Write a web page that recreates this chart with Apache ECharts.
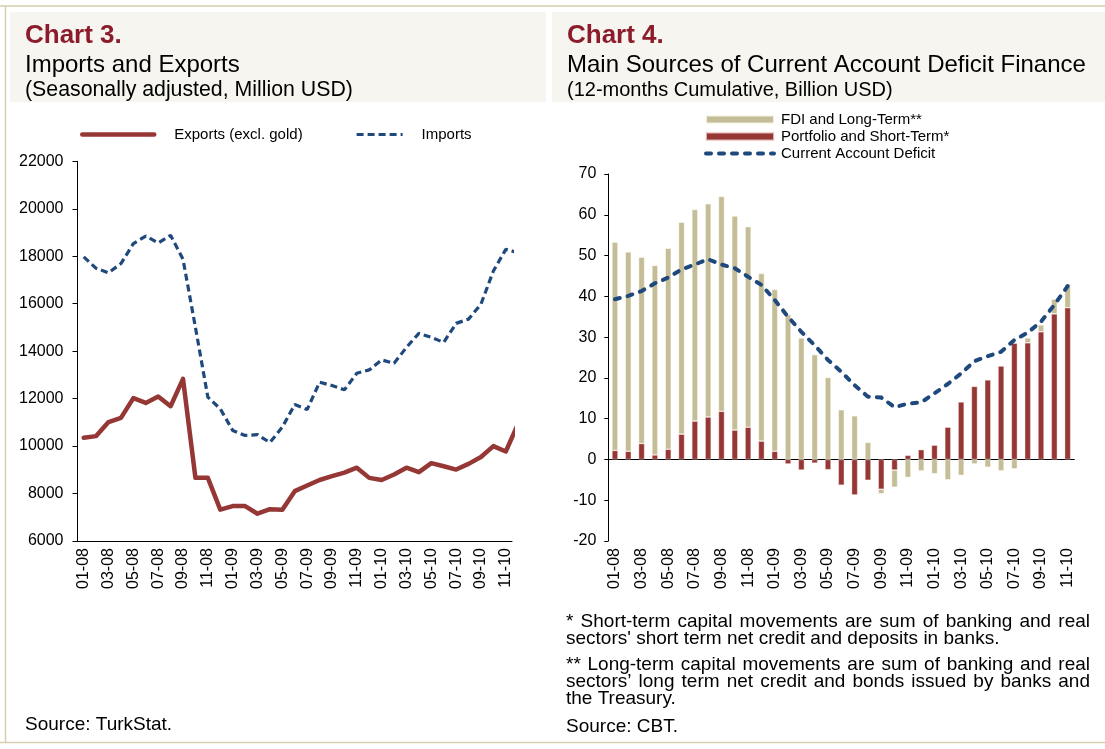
<!DOCTYPE html>
<html lang="en">
<head>
<meta charset="UTF-8">
<title>Chart 3 and Chart 4</title>
<script src="https://cdn.jsdelivr.net/npm/echarts@6.0.0/dist/echarts.min.js"></script>
<style>
  html, body { margin: 0; padding: 0; background: #fff; }
  #main { width: 1105px; height: 749px; }
</style>
</head>
<body>
<div id="main"></div>
<script type="text/javascript">
// ---- data ----
const monthsLeft = ['01-08','02-08','03-08','04-08','05-08','06-08','07-08','08-08','09-08','10-08','11-08','12-08',
  '01-09','02-09','03-09','04-09','05-09','06-09','07-09','08-09','09-09','10-09','11-09','12-09',
  '01-10','02-10','03-10','04-10','05-10','06-10','07-10','08-10','09-10','10-10','11-10','12-10'];
const exportsExGold = [10350, 10420, 11010, 11190, 12020, 11820, 12090, 11680, 12830, 8660, 8660, 7320,
  7470, 7470, 7150, 7340, 7320, 8100, 8340, 8570, 8730, 8880, 9090, 8660,
  8570, 8800, 9090, 8900, 9280, 9150, 9010, 9250, 9540, 10000, 9770, 10950];
const imports = [17970, 17490, 17300, 17690, 18530, 18850, 18560, 18880, 17870, 15000, 12060, 11570,
  10660, 10450, 10480, 10150, 10800, 11750, 11540, 12690, 12550, 12370, 13070, 13210,
  13630, 13490, 14160, 14750, 14580, 14370, 15170, 15350, 15980, 17380, 18290, 18150];

const monthsRight = ['01-08','02-08','03-08','04-08','05-08','06-08','07-08','08-08','09-08','10-08','11-08','12-08',
  '01-09','02-09','03-09','04-09','05-09','06-09','07-09','08-09','09-09','10-09','11-09','12-09',
  '01-10','02-10','03-10','04-10','05-10','06-10','07-10','08-10','09-10','10-10','11-10'];
const portfolioShort = [2.2, 2.0, 3.9, 1.1, 2.5, 6.2, 9.4, 10.4, 11.8, 7.2, 7.9, 4.5,
  2.0, -1.1, -2.6, -0.9, -2.5, -6.3, -8.7, -5.1, -7.3, -2.6, 1.0, 2.4,
  3.5, 7.9, 14.1, 17.9, 19.5, 22.9, 28.5, 28.6, 31.3, 35.7, 37.2];
const fdiLong = [51.1, 48.9, 45.7, 46.5, 49.3, 52.0, 51.9, 52.3, 52.7, 52.5, 49.2, 41.1,
  39.7, 35.5, 29.8, 25.7, 20.1, 12.2, 10.7, 4.2, -1.1, -4.2, -4.4, -2.8,
  -3.5, -5.0, -3.9, -1.1, -1.9, -2.8, -2.3, 1.2, 1.7, 3.6, 5.8];
const currentAccountDeficit = [39.3, 40.1, 41.3, 43.2, 44.6, 46.6, 47.8, 49.1, 47.8, 46.9, 44.8, 42.8,
  39.1, 35.0, 31.3, 28.0, 24.4, 21.5, 18.2, 15.4, 15.2, 12.8, 13.7, 14.0,
  16.2, 18.5, 21.1, 24.1, 25.3, 26.4, 29.3, 31.1, 33.8, 37.9, 42.5];

// ---- styling ----
const FONT = '"Liberation Sans", Arial, sans-serif';
const RED = '#953735';
const BLUE = '#1f497d';
const TAN = '#c4bd97';
const TITLE_RED = '#8c1c2c';
const BORDER = '#d8cdae';
const PANEL = '#f6f5f0';

const measureCtx = document.createElement('canvas').getContext('2d');

function txt(str, x, y, size, opts) {
  opts = opts || {};
  return {
    type: 'text', x: x, y: y, silent: true,
    style: {
      text: str, fontSize: size, fontFamily: FONT, fontWeight: opts.bold ? 'bold' : 'normal',
      fill: opts.color || '#000', align: 'left', verticalAlign: 'middle',
      textAlign: 'left', textVerticalAlign: 'middle'
    }
  };
}

// spread the words of one line across a width (justified paragraph)
function justified(str, x, y, width, size) {
  measureCtx.font = size + 'px ' + FONT;
  const words = str.split(/\s+/);
  const widths = words.map(w => measureCtx.measureText(w).width);
  const total = widths.reduce((a, b) => a + b, 0);
  const gap = (width - total) / (words.length - 1);
  const out = [];
  let cx = x;
  words.forEach((w, i) => {
    out.push(txt(w, cx, y, size));
    cx += widths[i] + gap;
  });
  return out;
}

const catLabel = { interval: 1, rotate: 90, fontSize: 16, color: '#000', fontFamily: FONT, margin: 7 };
const valLabel = { fontSize: 16, color: '#000', fontFamily: FONT, formatter: v => String(v) };
const blackLine = { lineStyle: { color: '#000', width: 1 } };
const NOTE = 19;
const hideSymbol = { opacity: 0 };

const graphics = [
  { type: 'line', shape: { x1: 0, y1: 6, x2: 1105, y2: 6 }, style: { stroke: BORDER, lineWidth: 1.5 }, silent: true },
  { type: 'line', shape: { x1: 0, y1: 742.5, x2: 1105, y2: 742.5 }, style: { stroke: BORDER, lineWidth: 1.5 }, silent: true },
  { type: 'line', shape: { x1: 5.5, y1: 6, x2: 5.5, y2: 742.5 }, style: { stroke: BORDER, lineWidth: 1.5 }, silent: true },
  { type: 'rect', shape: { x: 10, y: 12, width: 536, height: 90 }, style: { fill: PANEL }, silent: true },
  { type: 'rect', shape: { x: 552, y: 12, width: 553, height: 90 }, style: { fill: PANEL }, silent: true },
  txt('Chart 3.', 25, 36, 26, { bold: true, color: TITLE_RED }),
  txt('Imports and Exports', 25, 65, 24),
  txt('(Seasonally adjusted, Million USD)', 25, 90, 21.3),
  txt('Chart 4.', 567, 36, 26, { bold: true, color: TITLE_RED }),
  txt('Main Sources of Current Account Deficit Finance', 567, 65, 24),
  txt('(12-months Cumulative, Billion USD)', 567, 90, 20),
  txt('Source: TurkStat.', 25, 725, NOTE),
  txt("sectors' short term net credit and deposits in banks.", 566, 639, NOTE),
  txt('the Treasury.', 566, 699, NOTE),
  txt('Source: CBT.', 566, 727, NOTE)
].concat(
  justified('*   Short-term capital movements are sum of banking and real', 566, 622, 524, NOTE),
  justified('**   Long-term capital movements are sum of banking and real', 566, 665, 524, NOTE),
  justified('sectors\u2019 long term net credit and bonds issued by banks and', 566, 682, 524, NOTE)
);

const chart = echarts.init(document.getElementById('main'));

const option = {
  animation: false,
  backgroundColor: '#fff',
  textStyle: { fontFamily: FONT },
  graphic: graphics,
  legend: [
    {
      data: [{ name: 'Exports (excl. gold)', itemStyle: hideSymbol }], left: 80, top: 127, padding: 0,
      itemWidth: 72, itemHeight: 16,
      lineStyle: { width: 4.5, cap: 'round' },
      textStyle: { fontSize: 15, color: '#000', fontFamily: FONT, padding: [0, 0, 0, 15] },
      selectedMode: false
    },
    {
      data: [{ name: 'Imports', itemStyle: hideSymbol }], left: 355, top: 127, padding: 0,
      itemWidth: 46, itemHeight: 16,
      lineStyle: { width: 3.2 },
      textStyle: { fontSize: 15, color: '#000', fontFamily: FONT, padding: [0, 0, 0, 14] },
      selectedMode: false
    },
    {
      data: [
        { name: 'FDI and Long-Term**', icon: 'rect' },
        { name: 'Portfolio and Short-Term*', icon: 'rect' },
        { name: 'Current Account Deficit', itemStyle: hideSymbol }
      ],
      orient: 'vertical', left: 704, top: 111, padding: 0,
      itemWidth: 68, itemHeight: 8, itemGap: 0,
      lineStyle: { width: 4 },
      textStyle: { fontSize: 15, lineHeight: 17, color: '#000', fontFamily: FONT, padding: [0, 0, 0, 2] },
      selectedMode: false
    }
  ],
  grid: [
    { left: 77.5, top: 161.3, width: 434.5, height: 379.7 },
    { left: 608.3, top: 174, width: 466, height: 367 }
  ],
  xAxis: [
    {
      gridIndex: 0, type: 'category', data: monthsLeft, max: 34, boundaryGap: true,
      axisLine: blackLine,
      axisTick: { interval: 1, length: 5, lineStyle: { color: '#000' } },
      axisLabel: catLabel
    },
    {
      gridIndex: 1, type: 'category', data: monthsRight, boundaryGap: true,
      axisLine: { onZero: true, lineStyle: { color: '#000', width: 1 } },
      axisTick: { interval: 0, length: 4, lineStyle: { color: '#000' } },
      axisLabel: { show: false }
    },
    {
      gridIndex: 1, type: 'category', data: monthsRight, boundaryGap: true, position: 'bottom',
      axisLine: { show: false, onZero: false },
      axisTick: { show: false },
      axisLabel: catLabel
    }
  ],
  yAxis: [
    {
      gridIndex: 0, type: 'value', min: 6000, max: 22000, interval: 2000,
      axisLine: { show: true, lineStyle: { color: '#000', width: 1 } },
      axisTick: { show: true, length: 5, lineStyle: { color: '#000' } },
      splitLine: { show: false },
      axisLabel: Object.assign({ margin: 14 }, valLabel)
    },
    {
      gridIndex: 1, type: 'value', min: -20, max: 70, interval: 10,
      axisLine: { show: true, lineStyle: { color: '#000', width: 1 } },
      axisTick: { show: true, length: 4, lineStyle: { color: '#000' } },
      splitLine: { show: false },
      axisLabel: Object.assign({ margin: 12 }, valLabel)
    }
  ],
  series: [
    {
      name: 'Exports (excl. gold)', type: 'line', xAxisIndex: 0, yAxisIndex: 0,
      data: exportsExGold, symbol: 'none', clip: true,
      lineStyle: { color: RED, width: 4.5, cap: 'round', join: 'round' },
      itemStyle: { color: RED }
    },
    {
      name: 'Imports', type: 'line', xAxisIndex: 0, yAxisIndex: 0,
      data: imports, symbol: 'none', clip: true,
      lineStyle: { color: BLUE, width: 3.2, type: [7, 4] },
      itemStyle: { color: BLUE }
    },
    {
      name: 'Portfolio and Short-Term*', type: 'bar', xAxisIndex: 1, yAxisIndex: 1,
      stack: 'finance', data: portfolioShort, barWidth: 6,
      itemStyle: { color: RED, borderColor: 'rgba(255,235,235,0.7)', borderWidth: 0.6 }
    },
    {
      name: 'FDI and Long-Term**', type: 'bar', xAxisIndex: 1, yAxisIndex: 1,
      stack: 'finance', data: fdiLong, barWidth: 6,
      itemStyle: { color: TAN, borderColor: 'rgba(255,255,245,0.8)', borderWidth: 0.6 }
    },
    {
      name: 'Current Account Deficit', type: 'line', xAxisIndex: 1, yAxisIndex: 1,
      data: currentAccountDeficit, symbol: 'none', z: 5,
      lineStyle: { color: BLUE, width: 4, type: [5, 8], cap: 'round' },
      itemStyle: { color: BLUE }
    }
  ]
};

chart.setOption(option);
</script>
</body>
</html>
